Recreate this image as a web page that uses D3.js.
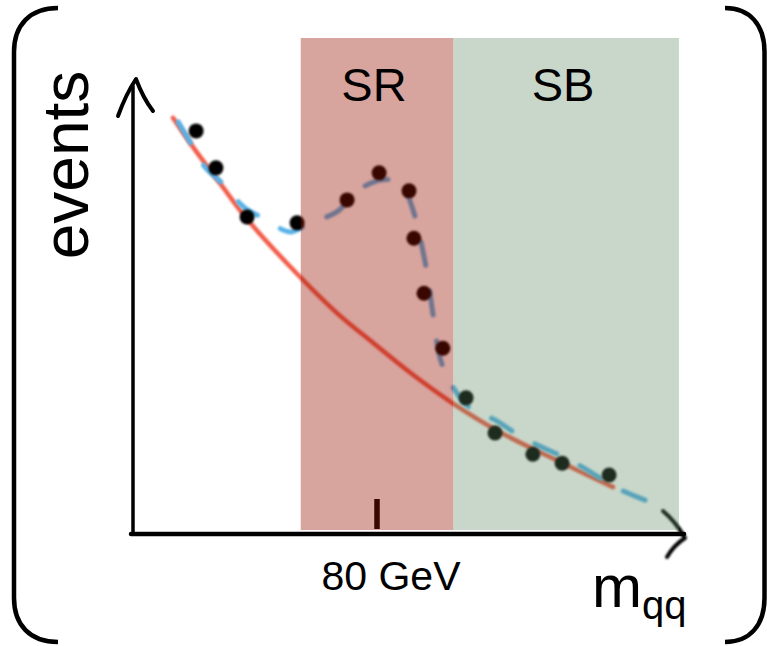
<!DOCTYPE html>
<html>
<head>
<meta charset="utf-8">
<script src="https://cdn.jsdelivr.net/npm/d3@7"></script>
<style>
  html, body { margin: 0; padding: 0; background: #fff; }
  svg { display: block; }
  text { font-family: "Liberation Sans", Arial, sans-serif; fill: #000; }
</style>
</head>
<body>
<svg id="chart" width="767" height="646"></svg>
<script>
// ---- data (m_qq in GeV, events in arbitrary units) ----
const dataMass   = [20.7, 27.2, 37.4, 53.8, 70.2, 80.7, 90.5, 92.1, 95.4, 101.6, 109.2, 118.7, 131.1, 140.7, 156.1];
const dataEvents = [89.4, 81.2, 70.3, 69.0, 74.1, 80.1, 76.1, 65.6, 53.4, 41.2, 30.2, 22.4, 17.7, 15.7, 13.1];

const bkgMass   = [13.1, 19.7, 28.5, 37.7, 54.8, 66.9, 78.7, 91.8, 104.6, 120.3, 140.0, 157.4];
const bkgEvents = [92.3, 85.8, 77.8, 69.6, 57.0, 49.0, 42.4, 35.3, 29.1, 22.6, 16.0, 10.4];

const sigBkgMass   = [14.8, 19.7, 23.6, 29.2, 36.7, 42.6, 51.5, 57.0, 67.2, 72.8, 80.0, 84.3, 88.5, 91.0, 92.8, 95.1, 96.7, 98.4, 100.7, 103.9, 110.5, 118.7, 127.9, 144.3, 158.7, 167.9];
const sigBkgEvents = [91.4, 85.8, 81.4, 77.8, 72.3, 70.1, 67.0, 68.7, 71.6, 75.8, 78.3, 78.6, 77.6, 73.5, 69.6, 62.6, 56.8, 48.5, 39.0, 33.7, 27.9, 25.3, 21.3, 16.0, 10.2, 7.5];

const regionNames = ["SR", "SB"];
const regionStart = [55, 105];
const regionEnd   = [105, 179];

const tickValues = [80];
const tickLabels = ["80 GeV"];

// ---- layout ----
const svg = d3.select("#chart");
const x = d3.scaleLinear().domain([0, 180]).range([133, 682]);
const y = d3.scaleLinear().domain([0, 110]).range([534, 38]);

const defs = svg.append("defs");
defs.append("filter").attr("id", "soft")
  .attr("x", "-20%").attr("y", "-20%").attr("width", "140%").attr("height", "140%")
  .append("feGaussianBlur").attr("stdDeviation", 0.9);

// brackets (decoration)
const frame = svg.append("g").attr("fill", "none").attr("stroke", "#000").attr("stroke-width", 4.5);
frame.append("path").attr("d", "M58,8 C30,8 14,25 14,52 L14,598 C14,625 30,642 58,642");
frame.append("path").attr("d", "M725,8 C750,8 764.5,25 764.5,52 L764.5,598 C764.5,625 750,642 725,642");

// axes (hand drawn style)
const axes = svg.append("g").attr("fill", "none").attr("stroke", "#000")
  .attr("stroke-linecap", "round").attr("stroke-linejoin", "round");
axes.append("path").attr("stroke-width", 3.5)
  .attr("d", `M${x(0)},${y(0)} L${x(0)},${y(0) - 448}`);
axes.append("path").attr("stroke-width", 4)
  .attr("d", "M118,116 Q126,94 136,79 Q143,98 153,111");
axes.append("path").attr("stroke-width", 4.5)
  .attr("d", `M${x(0) - 2},${y(0)} L${x(0) + 551},${y(0)}`);
axes.append("path").attr("stroke-width", 4)
  .attr("d", "M663,511 Q676,522 685,538 Q674,545 667,557")
  .attr("filter", "url(#soft)");

// tick mark
const plot = svg.append("g");
plot.selectAll("line.tick").data(tickValues).enter().append("line")
  .attr("x1", d => x(d)).attr("x2", d => x(d))
  .attr("y1", y(0) - 35).attr("y2", y(0) - 5)
  .attr("stroke", "#000").attr("stroke-width", 5.5);

// background fit (red)
const lineGen = d3.line().x(d => x(d[0])).y(d => y(d[1])).curve(d3.curveCatmullRom.alpha(0.5));
plot.append("path")
  .datum(d3.zip(bkgMass, bkgEvents))
  .attr("d", lineGen)
  .attr("fill", "none").attr("stroke", "#f25c4a").attr("stroke-width", 4.5)
  .attr("stroke-linecap", "round").attr("filter", "url(#soft)");

// signal + background (blue dashed)
const sb = plot.append("path")
  .datum(d3.zip(sigBkgMass, sigBkgEvents))
  .attr("d", lineGen)
  .attr("fill", "none").attr("stroke", "#56b2e6").attr("stroke-width", 5)
  .attr("stroke-linecap", "round")
  .attr("filter", "url(#soft)");
// fit the dash pattern so the curve begins and ends on a dash
const L = sb.node().getTotalLength();
const dash = 24;
const nP = Math.max(1, Math.round((L - dash) / 52));
const period = (L - dash) / nP;
sb.attr("stroke-dasharray", `${dash},${period - dash}`);

// data points
plot.selectAll("circle.pt").data(d3.zip(dataMass, dataEvents)).enter().append("circle")
  .attr("cx", d => x(d[0])).attr("cy", d => y(d[1])).attr("r", 7.5)
  .attr("fill", "#000").attr("filter", "url(#soft)");

// region bands (translucent overlays)
const bandFill = ["rgba(153,16,0,0.38)", "rgba(90,135,95,0.33)"];
svg.append("g").selectAll("rect").data(regionNames).enter().append("rect")
  .attr("x", (d, i) => x(regionStart[i]))
  .attr("width", (d, i) => x(regionEnd[i]) - x(regionStart[i]))
  .attr("y", y(110))
  .attr("height", y(0) - 4 - y(110))
  .attr("fill", (d, i) => bandFill[i]);

// region labels
svg.append("g").selectAll("text").data(regionNames).enter().append("text")
  .attr("x", (d, i) => (x(regionStart[i]) + x(regionEnd[i])) / 2 - 3)
  .attr("y", 101)
  .attr("text-anchor", "middle").attr("font-size", 47)
  .text(d => d);

// tick label
svg.selectAll("text.ticklab").data(tickLabels).enter().append("text")
  .attr("class", "ticklab")
  .attr("x", (d, i) => x(tickValues[i]) + 14).attr("y", 590)
  .attr("text-anchor", "middle").attr("font-size", 41)
  .text(d => d);

// axis titles
svg.append("text")
  .attr("transform", "translate(88,165) rotate(-90)")
  .attr("text-anchor", "middle").attr("font-size", 64)
  .text("events");

const xt = svg.append("text").attr("x", 592).attr("y", 607).attr("font-size", 60);
xt.append("tspan").text("m");
xt.append("tspan").attr("font-size", 40).attr("dy", 12).text("qq");
</script>
</body>
</html>
